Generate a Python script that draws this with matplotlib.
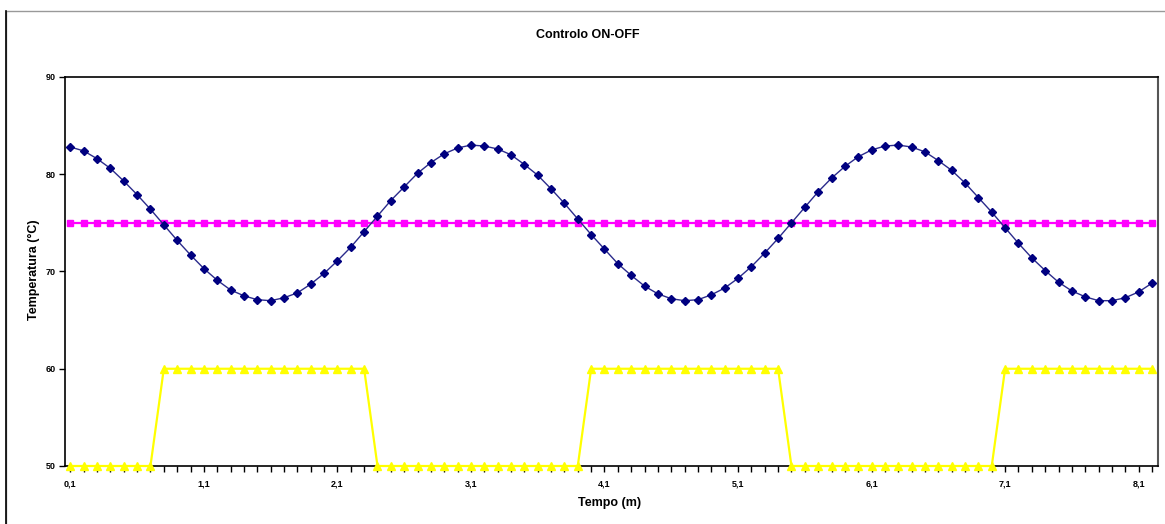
import numpy as np
import matplotlib
matplotlib.use('Agg')
import matplotlib.pyplot as plt
from matplotlib.patches import Rectangle

plt.rcParams['font.family'] = ['Liberation Sans', 'DejaVu Sans']

# tempo (m) categories 0,1 .. 8,2
tempo = ['%d,%d' % (i // 10, i % 10) for i in range(1, 83)]

temperatura = [82.8, 82.4, 81.6, 80.6, 79.3, 77.9, 76.4, 74.8, 73.2, 71.7,
               70.3, 69.1, 68.1, 67.5, 67.1, 67.0, 67.3, 67.8, 68.7, 69.8,
               71.1, 72.5, 74.1, 75.7, 77.3, 78.7, 80.1, 81.2, 82.1, 82.7,
               83.0, 82.9, 82.6, 82.0, 81.0, 79.9, 78.5, 77.0, 75.4, 73.8,
               72.3, 70.8, 69.6, 68.5, 67.7, 67.2, 67.0, 67.1, 67.6, 68.3,
               69.3, 70.5, 71.9, 73.4, 75.0, 76.6, 78.2, 79.6, 80.8, 81.8,
               82.5, 82.9, 83.0, 82.8, 82.3, 81.4, 80.4, 79.1, 77.6, 76.1,
               74.5, 72.9, 71.4, 70.1, 68.9, 68.0, 67.4, 67.0, 67.0, 67.3,
               67.9, 68.8]

setpoint = [75] * 82

aquecedor = [50] * 7 + [60] * 16 + [50] * 16 + [60] * 15 + [50] * 16 + [60] * 12

W, H = 1165, 524
fig = plt.figure(figsize=(W / 100.0, H / 100.0), dpi=100)
fig.patch.set_facecolor('white')

# chart area border
fig.add_artist(Rectangle((6.0 / W, -0.01), 1.2, 1 - 10.5 / H + 0.01,
                         transform=fig.transFigure, fill=False,
                         edgecolor='#999999', linewidth=1.0))
fig.add_artist(plt.Line2D([6.0 / W, 6.0 / W], [0, 1 - 10.5 / H],
                          transform=fig.transFigure, color='black', linewidth=1.2))

left, right, top, bottom = 65.0, 1158.0, 77.0, 466.0
ax = fig.add_axes([left / W, 1 - bottom / H, (right - left) / W, (bottom - top) / H])

x = np.arange(len(tempo))
ax.plot(x, aquecedor, color='#FFFF00', linewidth=1.6, marker='^', markersize=5.5,
        markeredgecolor='#FFFF00', markerfacecolor='#FFFF00', zorder=3,
        clip_on=False)
ax.plot(x, setpoint, color='#FF00FF', linewidth=1.6, marker='s', markersize=4.5,
        markeredgecolor='#FF00FF', markerfacecolor='#FF00FF', zorder=3)
ax.plot(x, temperatura, color='#2B2B8C', linewidth=1.0, marker='D', markersize=3.8,
        markeredgecolor='#000080', markerfacecolor='#000080', zorder=4)

ax.set_xlim(-0.4, len(tempo) - 1 + 0.45)
ax.set_ylim(50, 90)

ax.set_xticks(x)
ax.set_xticklabels([t if i % 10 == 0 else '' for i, t in enumerate(tempo)],
                   fontsize=6.5, fontweight='bold')
ax.set_yticks([50, 60, 70, 80, 90])
ax.set_yticklabels(['50', '60', '70', '80', '90'], fontsize=6.5, fontweight='bold')
ax.tick_params(axis='x', direction='out', length=4, width=1, pad=6)
ax.tick_params(axis='y', direction='out', length=4, width=1, pad=3)

for s in ['left', 'bottom', 'top']:
    ax.spines[s].set_color('black')
    ax.spines[s].set_linewidth(1.2)
ax.spines['right'].set_color('#555555')
ax.spines['right'].set_linewidth(1.5)

fig.text(588.0 / W, 1 - 35.0 / H, 'Controlo ON-OFF', ha='center', va='center',
         fontsize=9, fontweight='bold')
fig.text(610.0 / W, 1 - 503.0 / H, 'Tempo (m)', ha='center', va='center',
         fontsize=9, fontweight='bold')
fig.text(34.0 / W, 1 - 270.0 / H, 'Temperatura (\u00b0C)', ha='center', va='center',
         rotation=90, fontsize=9, fontweight='bold')

fig.savefig('out.png', dpi=100)
